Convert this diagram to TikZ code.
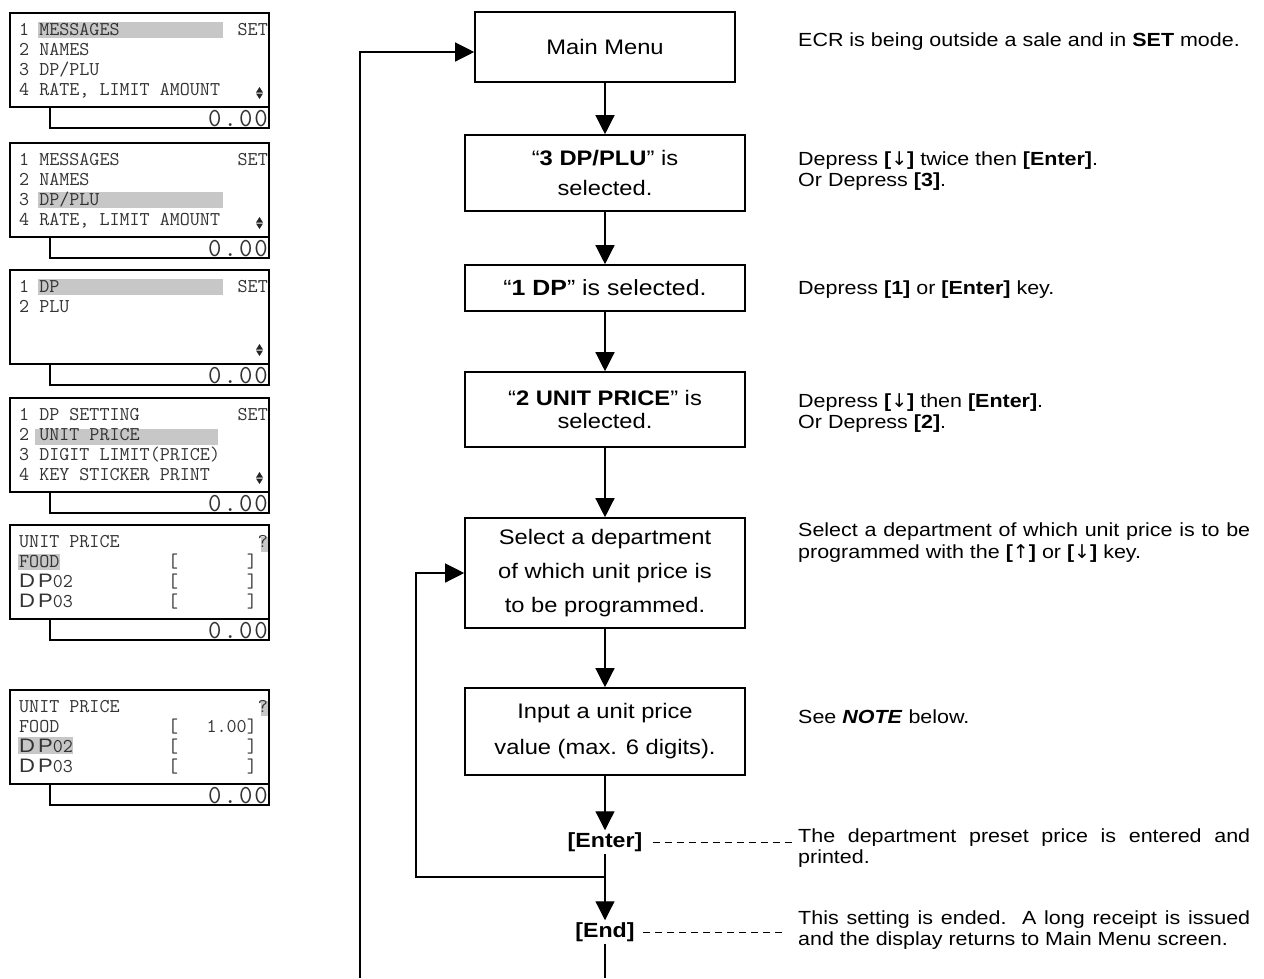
\documentclass[tikz,border=0pt]{standalone}
\usepackage{fontspec}
\setmainfont{Liberation Sans}[FakeStretch=1.13]
\newfontfamily\arrowfont{DejaVu Sans}
\usetikzlibrary{arrows.meta,positioning}

\newcommand{\dpname}[1]{{\rmfamily D\kern3pt P}#1}
\newcommand{\dnkey}{\textbf{[}{\arrowfont ↓}\textbf{]}}
\newcommand{\upkey}{\textbf{[}{\arrowfont ↑}\textbf{]}}

\begin{document}
\begin{tikzpicture}[x=1pt,y=-1pt,
  lcdframe/.style={line width=1.2pt},
  hilite/.style={fill=black!22},
  lcdtxt/.style={anchor=base west, inner sep=0pt, text=black!80, font=\ttfamily\fontsize{19.5}{20}\selectfont},
  lcdright/.style={lcdtxt, anchor=base east},
  lcdbig/.style={anchor=base east, inner sep=0pt, text=black!80, font=\ttfamily\fontsize{26}{28}\selectfont},
  flowbox/.style={draw, line width=1.6pt, align=center, minimum width=280pt, inner sep=2pt, font=\fontsize{21}{30}\selectfont},
  flow/.style={line width=1.3pt, -{Triangle[length=19pt,width=19pt]}},
  plain/.style={line width=1.3pt},
  keytxt/.style={inner sep=2pt, font=\bfseries\fontsize{20.5}{22}\selectfont},
  note/.style={anchor=west, inner sep=0pt, text width=452pt, align=justify, font=\fontsize{19}{21.5}\selectfont},
  leader/.style={line width=1pt, dash pattern=on 7pt off 5pt}]
  \useasboundingbox (0,0) rectangle (1264,978);

  % display frames
  \foreach \t [count=\i] in {13,143,270,398,525,690}{
    \draw[lcdframe] (10,\t) rectangle (269,\t+94);
    \draw[lcdframe] (50,\t+94) -- (50,\t+115) -- (269,\t+115) -- (269,\t+94);
    \node[lcdbig] (amt\i) at (268,\t+113) {0\kern2pt.\kern2pt0\kern2pt0};
  }
  % scroll marks
  \foreach \t in {13,143,270,398}{
    \fill[black!85] (256,\t+79.5) -- (263,\t+79.5) -- (259.5,\t+74) -- cycle;
    \fill[black!85] (256,\t+80.5) -- (263,\t+80.5) -- (259.5,\t+86) -- cycle;
  }

  % cursor bars
  \fill[hilite] (38,22) rectangle (223,38);
  \fill[hilite] (38,192) rectangle (223,208);
  \fill[hilite] (38,279) rectangle (223,295);
  \fill[hilite] (35,429) rectangle (218,445);
  \fill[hilite] (18,554) rectangle (60,570);
  \fill[hilite] (261,537) rectangle (268,552);
  \fill[hilite] (18,737) rectangle (73,754);
  \fill[hilite] (261,701) rectangle (268,716);

  % main menu screens
  \foreach \t/\s in {13/a,143/b}{
    \node[lcdtxt] (menu\s1) at (19,\t+22) {1 MESSAGES};
    \node[lcdright] (menu\s set) at (268,\t+22) {SET};
    \node[lcdtxt] (menu\s2) at (19,\t+42) {2 NAMES};
    \node[lcdtxt] (menu\s3) at (19,\t+62) {3 DP/PLU};
    \node[lcdtxt] (menu\s4) at (19,\t+82) {4 RATE, LIMIT AMOUNT};
  }
  % DP/PLU screen
  \node[lcdtxt] (plu1) at (19,292) {1 DP};
  \node[lcdright] (pluset) at (268,292) {SET};
  \node[lcdtxt] (plu2) at (19,312) {2 PLU};
  % DP screen
  \node[lcdtxt] (dp1) at (19,420) {1 DP SETTING};
  \node[lcdright] (dpset) at (268,420) {SET};
  \node[lcdtxt] (dp2) at (19,440) {2 UNIT PRICE};
  \node[lcdtxt] (dp3) at (19,460) {3 DIGIT LIMIT(PRICE)};
  \node[lcdtxt] (dp4) at (19,480) {4 KEY STICKER PRINT};
  % unit price screens
  \foreach \t/\s in {525/a,690/b}{
    \node[lcdtxt] (unit\s0) at (19,\t+22) {UNIT PRICE};
    \node[lcdright] (unit\s q) at (268,\t+22) {?};
    \node[lcdtxt] (unit\s1) at (19,\t+42) {FOOD};
    \node[lcdtxt] (unit\s2) at (19,\t+62) {\dpname{02}};
    \node[lcdtxt] (unit\s3) at (19,\t+82) {\dpname{03}};
    \foreach \r in {42,62,82}
      \node[lcdtxt] (open\s\r) at (168,\t+\r) {[};
  }
  \node[lcdright] (closea1) at (257,567) {]};
  \node[lcdright] (closeb1) at (257,732) {1.00]};
  \foreach \y/\n in {587/a2,607/a3,752/b2,772/b3}
    \node[lcdright] (close\n) at (257,\y) {]};

  % flow
  \node[flowbox, minimum width=260pt, minimum height=70pt] (mainmenu) at (605,47) {Main Menu};
  \node[flowbox, minimum height=76pt] (dpplu) at (605,173) {“\textbf{3 DP/PLU}” is\\selected.};
  \node[flowbox, minimum height=46pt, font=\fontsize{22}{26}\selectfont] (dpsel) at (605,288) {“\textbf{1 DP}” is selected.};
  \node[flowbox, minimum height=75pt, font=\fontsize{21}{23}\selectfont] (unitsel) at (605,409.5) {“\textbf{2 UNIT PRICE}” is\\selected.};
  \node[flowbox, minimum height=110pt, font=\fontsize{21}{34}\selectfont] (deptsel) at (605,573) {Select a department\\of which unit price is\\to be programmed.};
  \node[flowbox, minimum height=87pt, font=\fontsize{21}{36}\selectfont] (priceinput) at (605,731.5) {Input a unit price\\value (max. 6 digits).};
  \node[keytxt] (enterkey) at (605,842) {[Enter]};
  \node[keytxt] (endkey) at (605,932) {[End]};

  \draw[flow] (mainmenu) -- (dpplu);
  \draw[flow] (dpplu) -- (dpsel);
  \draw[flow] (dpsel) -- (unitsel);
  \draw[flow] (unitsel) -- (deptsel);
  \draw[flow] (deptsel) -- (priceinput);
  \draw[flow] (priceinput) -- (enterkey);
  \draw[flow] (enterkey) -- (endkey);
  \coordinate (tailend) at (605,978);
  \draw[plain] (endkey) -- (tailend);

  % loops back
  \coordinate (loopjoin) at (605,877);
  \coordinate (loopcorner) at (416,877);
  \draw[flow] (loopjoin) -- (loopcorner) |- (deptsel.west);
  \coordinate (outercorner) at (360,978);
  \draw[flow] (outercorner) |- ([yshift=-5pt]mainmenu.west);

  % notes
  \node[note] (menunote) at (798,42) {ECR is being outside a sale and in \textbf{SET} mode.};
  \node[note] (plunote) at (798,171) {Depress \dnkey{} twice then \textbf{[Enter]}.\\Or Depress \textbf{[3]}.};
  \node[note] (dpnote) at (798,290) {Depress \textbf{[1]} or \textbf{[Enter]} key.};
  \node[note] (unitnote) at (798,413) {Depress \dnkey{} then \textbf{[Enter]}.\\Or Depress \textbf{[2]}.};
  \node[note] (deptnote) at (798,542.5) {Select a department of which unit price is to be programmed with the \upkey{} or \dnkey{} key.};
  \node[note] (notenote) at (798,717) {See \textbf{\textit{NOTE}} below.};
  \node[note] (enternote) at (798,848) {The department preset price is entered and printed.};
  \node[note] (endnote) at (798,930) {This setting is ended.\ \ A long receipt is issued and the display returns to Main Menu screen.};

  \draw[leader, shorten >=6pt] ([xshift=8pt]enterkey.east) -- (enterkey.east -| enternote.west);
  \draw[leader, shorten >=16pt] ([xshift=6pt]endkey.east) -- (endkey.east -| endnote.west);
\end{tikzpicture}
\end{document}
